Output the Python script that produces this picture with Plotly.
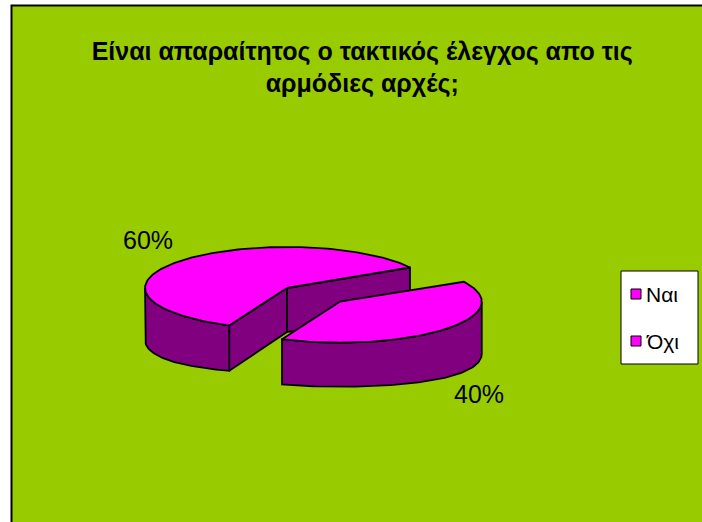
import numpy as np
import plotly.graph_objects as go

# Survey answers
categories = ["Ναι", "Όχι"]
values = [60, 40]
explode = [0.0, 0.5]
title_text = "Είναι απαραίτητος ο τακτικός έλεγχος απο τις<br>αρμόδιες αρχές;"

# Canvas and pie geometry (pixels)
W, H = 702, 522
CX, CY = 287, 288          # centre of the pie top face
RX, RY = 142, 41           # ellipse radii of the tilted disc
DEPTH = 44                 # thickness of the disc at its centre
DEPTH_EDGE = 8             # extra thickness towards the left/right rim (perspective)
START = 114                # first slice start angle, clockwise from 3 o'clock

TOP = "#FF00FF"
SIDE = "#800080"
BG = "#99CC00"
FONT = "Liberation Sans, Arial, sans-serif"

fig = go.Figure()


def depth(ang):
    return DEPTH + DEPTH_EDGE * np.cos(np.radians(ang)) ** 2


def ell(cx, cy, ang, bottom=False):
    a = np.radians(ang)
    dy = depth(ang) if bottom else 0.0
    return cx + RX * np.cos(a), cy + RY * np.sin(a) + dy


def poly(xs, ys, color):
    fig.add_trace(go.Scatter(
        x=list(xs), y=list(ys), mode="lines", fill="toself",
        fillcolor=color, line=dict(color="black", width=1.8),
        hoverinfo="skip", showlegend=False))


# Slice angles from the values
total = float(sum(values))
slices = []
a = START
for cat, v, ex in zip(categories, values, explode):
    span = 360.0 * v / total
    a0, a1 = a, a + span
    mid = (a0 + a1) / 2
    m = np.radians(mid)
    slices.append(dict(cat=cat, v=v, a0=a0, a1=a1, mid=mid,
                       cx=CX + RX * ex * np.cos(m), cy=CY + RY * ex * np.sin(m)))
    a = a1

# Draw back slices first
for s in sorted(slices, key=lambda s: np.sin(np.radians(s["mid"]))):
    cx, cy, a0, a1 = s["cx"], s["cy"], s["a0"], s["a1"]
    # radial cut faces that face the viewer
    for edge, visible in ((a0, np.cos(np.radians(a0)) < 0), (a1, np.cos(np.radians(a1)) > 0)):
        if visible:
            ex_, ey_ = ell(cx, cy, edge)
            _, eyb = ell(cx, cy, edge, bottom=True)
            poly([cx, ex_, ex_, cx, cx], [cy, ey_, eyb, cy + DEPTH, cy], SIDE)
    # outer curved side, front half only
    for k in range(-1, 3):
        lo, hi = max(a0, 360 * k), min(a1, 360 * k + 180)
        if hi > lo:
            t = np.linspace(lo, hi, 80)
            xt, yt = ell(cx, cy, t)
            xb, yb = ell(cx, cy, t[::-1], bottom=True)
            poly(np.r_[xt, xb, xt[:1]], np.r_[yt, yb, yt[:1]], SIDE)
    # top face
    t = np.linspace(a0, a1, 160)
    xt, yt = ell(cx, cy, t)
    poly(np.r_[cx, xt, cx], np.r_[cy, yt, cy], TOP)

# Percentage labels outside each slice
annotations = []
for s in slices:
    m = np.radians(s["mid"])
    lx = s["cx"] + RX * 1.32 * np.cos(m)
    ly = s["cy"] + RY * 1.75 * np.sin(m) + (DEPTH if np.sin(m) > 0 else 0)
    pct = round(100 * s["v"] / total)
    annotations.append(dict(x=lx, y=ly, xref="x", yref="y", text=f"{pct}%",
                            showarrow=False, font=dict(family=FONT, size=25, color="black"),
                            xanchor="center", yanchor="middle"))

# Chart frame and legend box
shapes = [
    dict(type="rect", xref="x", yref="y", x0=11.5, y0=5.5, x1=W + 5, y1=H + 5,
         fillcolor=BG, line=dict(color="black", width=2), layer="below"),
    dict(type="rect", xref="x", yref="y", x0=621, y0=271, x1=698, y1=364,
         fillcolor="white", line=dict(color="black", width=1), layer="above"),
]
for i, cat in enumerate(categories):
    yc = 294 + 47 * i
    shapes.append(dict(type="rect", xref="x", yref="y", x0=631, y0=yc - 5, x1=641, y1=yc + 5,
                       fillcolor=TOP, line=dict(color="black", width=1), layer="above"))
    annotations.append(dict(x=644, y=yc, xref="x", yref="y", text=cat, showarrow=False,
                            font=dict(family=FONT, size=21, color="black"),
                            xanchor="left", yanchor="middle"))

fig.update_layout(
    width=W, height=H, autosize=False,
    margin=dict(l=0, r=0, t=0, b=0),
    paper_bgcolor="white", plot_bgcolor="white",
    xaxis=dict(range=[0, W], visible=False, fixedrange=True),
    yaxis=dict(range=[H, 0], visible=False, fixedrange=True),
    title=dict(text=title_text, x=0.516, xanchor="center", y=1 - 59.5 / H, yanchor="middle",
               font=dict(family=FONT, size=25, color="black", weight="bold")),
    shapes=shapes, annotations=annotations, showlegend=False,
)

fig.write_html("out.html")
